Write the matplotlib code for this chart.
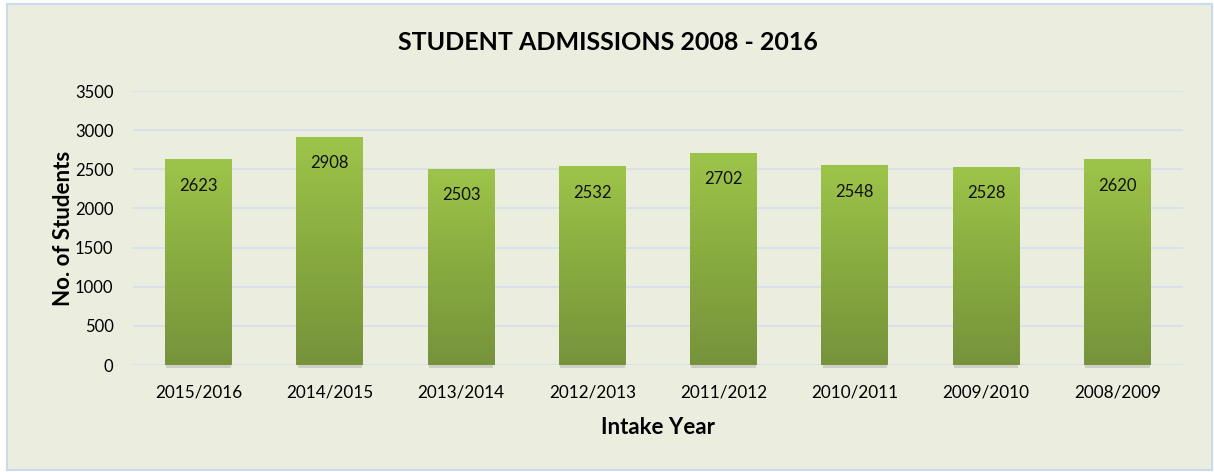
import numpy as np
import matplotlib
matplotlib.use("Agg")
import matplotlib.pyplot as plt
from matplotlib.patches import Rectangle

years = ["2015/2016", "2014/2015", "2013/2014", "2012/2013",
         "2011/2012", "2010/2011", "2009/2010", "2008/2009"]
students = [2623, 2908, 2503, 2532, 2702, 2548, 2528, 2620]
yticks = [0, 500, 1000, 1500, 2000, 2500, 3000, 3500]

bg = "#EBEEDF"
plt.rcParams["font.family"] = ["Lato", "DejaVu Sans"]

fig = plt.figure(figsize=(12.14, 4.72), dpi=100, facecolor="white")
# outer chart frame
fig.patches.append(Rectangle((7 / 1214, 2 / 472), 1205 / 1214, 466 / 472,
                             transform=fig.transFigure, facecolor=bg,
                             edgecolor="#C9D9EE", linewidth=1.5, zorder=-10))

ax = fig.add_axes([133 / 1214, (472 - 365) / 472, 1050 / 1214, 274 / 472])
ax.set_facecolor("none")

x = np.arange(len(years))
bw = 0.51
bars = ax.bar(x, students, width=bw, color="none", zorder=3)

# vertical gradient inside each bar
grad = np.linspace(0, 1, 256).reshape(-1, 1)
cmap = matplotlib.colors.LinearSegmentedColormap.from_list(
    "g", ["#76933C", "#88AB3F", "#9DC44A"])
for b in bars:
    x0 = b.get_x()
    h = b.get_height()
    ax.imshow(grad, extent=(x0, x0 + bw, 0, h), origin="lower",
              aspect="auto", cmap=cmap, zorder=3)
    # thin shadow below bar
    ax.add_patch(Rectangle((x0 + 0.01, -35), bw - 0.02, 35,
                           facecolor="#8A8A8A", alpha=0.3,
                           edgecolor="none", zorder=2, clip_on=False))
    ax.annotate(str(int(h)), (x0 + bw / 2, h), xytext=(0, -26),
                textcoords="offset pixels", ha="center", va="center",
                fontsize=12, color="#111111", zorder=5)

ax.set_xlim(-0.5, len(years) - 0.5)
ax.set_ylim(0, 3500)
ax.set_yticks(yticks)
ax.set_xticks(x)
ax.set_xticklabels(years, fontsize=12.3)
ax.tick_params(axis="y", labelsize=12, length=0, pad=14)
ax.tick_params(axis="x", length=0, pad=14)
ax.grid(axis="y", color="#D3DEEE", linewidth=1.2, zorder=0)
ax.set_axisbelow(True)
for s in ax.spines.values():
    s.set_visible(False)

ax.set_ylabel("No. of Students", fontsize=16, fontweight="bold", labelpad=1)
ax.set_xlabel("Intake Year", fontsize=16, fontweight="bold", labelpad=12)
fig.text(608 / 1214, 1 - 42 / 472, "STUDENT ADMISSIONS 2008 - 2016",
         ha="center", va="center", fontsize=18, fontweight="bold")

fig.savefig("out.png", dpi=100, facecolor="white")
